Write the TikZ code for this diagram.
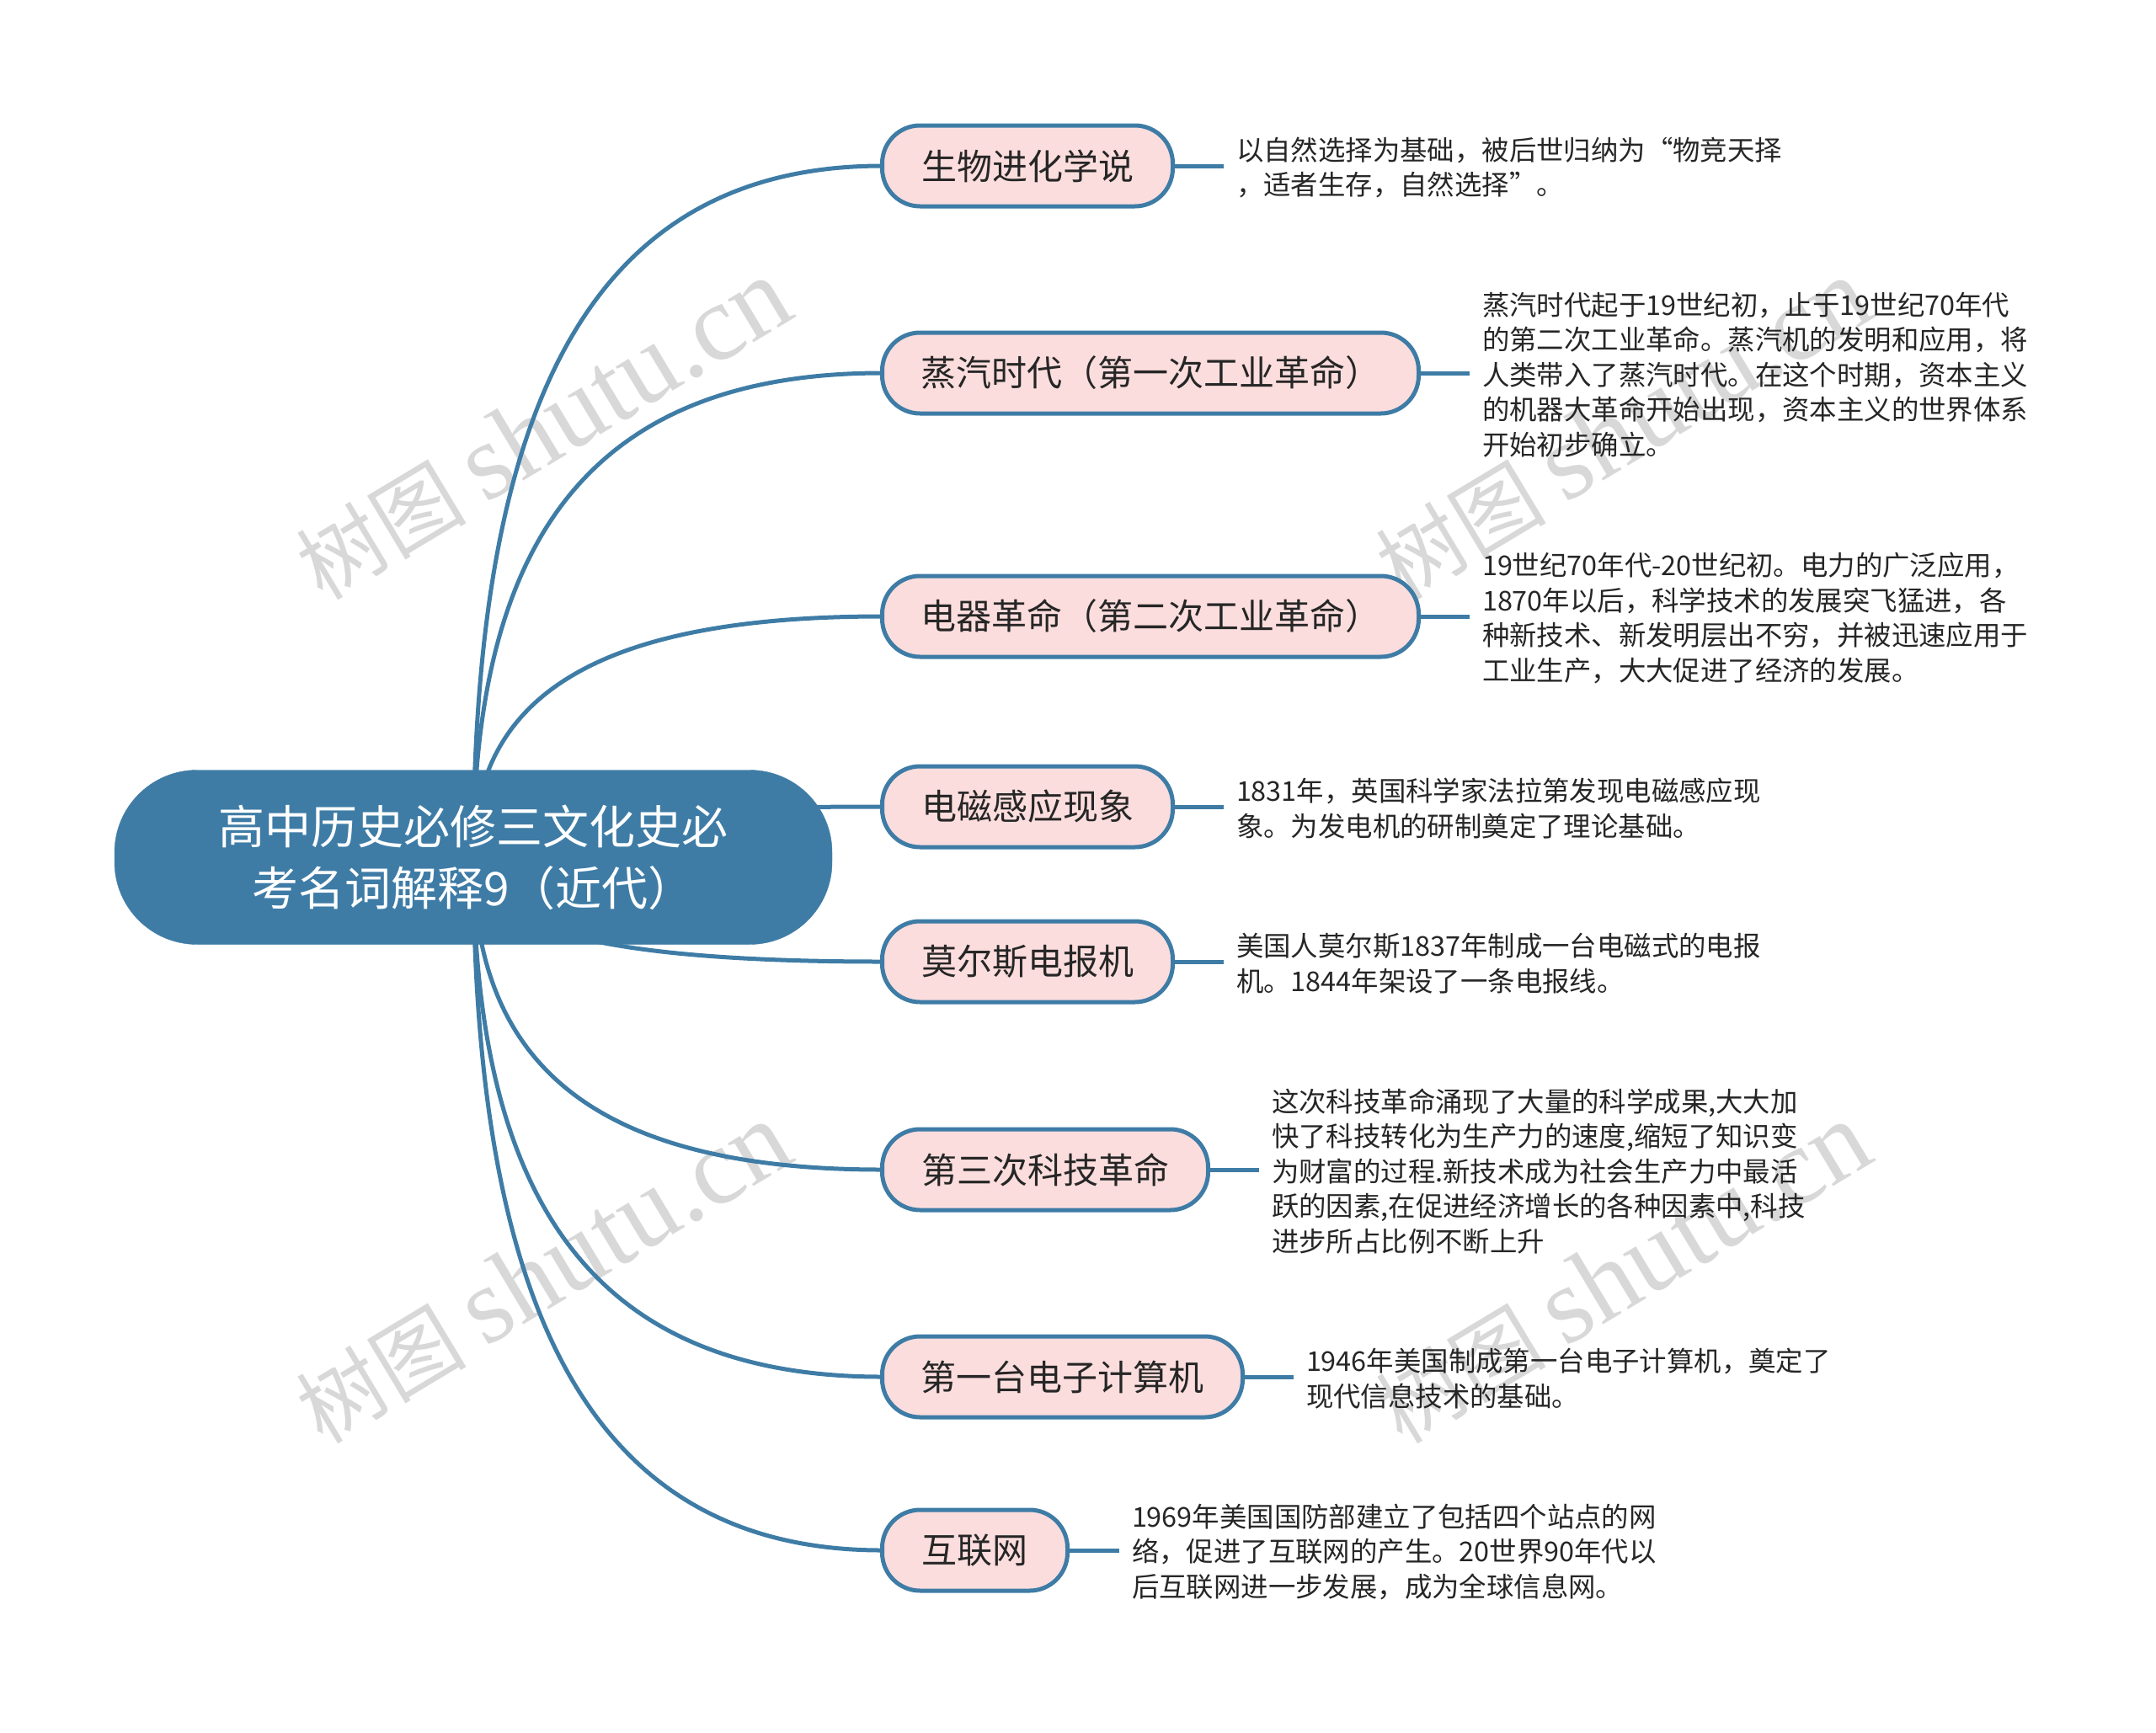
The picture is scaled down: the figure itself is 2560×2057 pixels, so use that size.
\documentclass[tikz,border=0pt]{standalone}
\usepackage{fontspec}
\setmainfont{Noto Sans CJK SC}
\newfontfamily\markfont{Liberation Serif}
\usetikzlibrary{backgrounds}
\definecolor{topicblue}{RGB}{62,124,166}
\definecolor{topicpink}{RGB}{252,221,221}
\definecolor{markgray}{RGB}{216,216,216}
\tikzset{
  root/.style={shape=rectangle, rounded corners=98pt, fill=topicblue, draw=topicblue, text=white, align=center, font=\fontsize{55}{73}\selectfont, minimum width=852pt, minimum height=207pt, outer sep=0pt},
  branch/.style={shape=rectangle, rounded corners=45pt, fill=topicpink, draw=topicblue, line width=5pt, text=black!85, anchor=west, font=\fontsize{42}{50}\selectfont, minimum height=96pt, outer sep=0pt},
  leaf/.style={anchor=west, align=left, text=black!85, font=\fontsize{32.4}{41.5}\selectfont, inner sep=0pt, inner xsep=15pt, outer sep=0pt, yshift=-3pt},
  link/.style={draw=topicblue, line width=5pt},
  stamp/.style={text=markgray, rotate=31, font=\fontsize{101}{124}\selectfont}
}

\begin{document}
\begin{tikzpicture}[x=1pt, y=-1pt]
      \useasboundingbox (0,0) rectangle (2560,2057);

      \node[root] (root) at (562,1018) {高中历史必修三文化史必\\考名词解释9（近代）};

      \node[branch, minimum width=345pt] (bio) at (1047.5,197) {生物进化学说};
      \node[branch, minimum width=637pt] (steam) at (1047.5,443) {蒸汽时代（第一次工业革命）};
      \node[branch, minimum width=637pt] (electric) at (1047.5,732) {电器革命（第二次工业革命）};
      \node[branch, minimum width=345pt] (induction) at (1047.5,958) {电磁感应现象};
      \node[branch, minimum width=345pt] (morse) at (1047.5,1142) {莫尔斯电报机};
      \node[branch, minimum width=387pt] (third) at (1047.5,1389) {第三次科技革命};
      \node[branch, minimum width=428pt] (computer) at (1047.5,1635) {第一台电子计算机};
      \node[branch, minimum width=220pt] (net) at (1047.5,1841) {互联网};

      \node[leaf] (bioleaf) at (1453,196) {以自然选择为基础，被后世归纳为“物竞天择\\，适者生存，自然选择”。};
      \node[leaf] (steamleaf) at (1745,442) {蒸汽时代起于19世纪初，止于19世纪70年代\\的第二次工业革命。蒸汽机的发明和应用，将\\人类带入了蒸汽时代。在这个时期，资本主义\\的机器大革命开始出现，资本主义的世界体系\\开始初步确立。};
      \node[leaf] (electricleaf) at (1745,731) {19世纪70年代-20世纪初。电力的广泛应用，\\1870年以后，科学技术的发展突飞猛进，各\\种新技术、新发明层出不穷，并被迅速应用于\\工业生产，大大促进了经济的发展。};
      \node[leaf] (inductionleaf) at (1453,957) {1831年，英国科学家法拉第发现电磁感应现\\象。为发电机的研制奠定了理论基础。};
      \node[leaf] (morseleaf) at (1453,1141) {美国人莫尔斯1837年制成一台电磁式的电报\\机。1844年架设了一条电报线。};
      \node[leaf] (thirdleaf) at (1495,1388) {这次科技革命涌现了大量的科学成果,大大加\\快了科技转化为生产力的速度,缩短了知识变\\为财富的过程.新技术成为社会生产力中最活\\跃的因素,在促进经济增长的各种因素中,科技\\进步所占比例不断上升};
      \node[leaf] (computerleaf) at (1536,1634) {1946年美国制成第一台电子计算机，奠定了\\现代信息技术的基础。};
      \node[leaf] (netleaf) at (1329,1840) {1969年美国国防部建立了包括四个站点的网\\络，促进了互联网的产生。20世界90年代以\\后互联网进一步发展，成为全球信息网。};

      \begin{scope}[on background layer]
      \node[stamp] (M1) at (645,510) {树图 {\markfont\fontsize{129}{124}\selectfont shutu.cn}};
      \node[stamp] (M2) at (1927,510) {树图 {\markfont\fontsize{129}{124}\selectfont shutu.cn}};
      \node[stamp] (M3) at (645,1512) {树图 {\markfont\fontsize{129}{124}\selectfont shutu.cn}};
      \node[stamp] (M4) at (1927,1512) {树图 {\markfont\fontsize{129}{124}\selectfont shutu.cn}};

      \path [link] (root.center) .. controls +(0,-537) and +(-346,0) .. (bio.west);
      \path [link] (root.center) .. controls +(0,-376) and +(-346,0) .. (steam.west);
      \path [link] (root.center) .. controls +(0,-187) and +(-346,0) .. (electric.west);
      \path [link] (root.center) .. controls +(0,-39) and +(-346,0) .. (induction.west);
      \path [link] (root.center) .. controls +(0,81) and +(-346,0) .. (morse.west);
      \path [link] (root.center) .. controls +(0,243) and +(-346,0) .. (third.west);
      \path [link] (root.center) .. controls +(0,404) and +(-346,0) .. (computer.west);
      \path [link] (root.center) .. controls +(0,538) and +(-346,0) .. (net.west);
      \end{scope}

      \path [link] (bio) edge (bio -| bioleaf.west);
      \path [link] (steam) edge (steam -| steamleaf.west);
      \path [link] (electric) edge (electric -| electricleaf.west);
      \path [link] (induction) edge (induction -| inductionleaf.west);
      \path [link] (morse) edge (morse -| morseleaf.west);
      \path [link] (third) edge (third -| thirdleaf.west);
      \path [link] (computer) edge (computer -| computerleaf.west);
      \path [link] (net) edge (net -| netleaf.west);
    \end{tikzpicture}
\end{document}
